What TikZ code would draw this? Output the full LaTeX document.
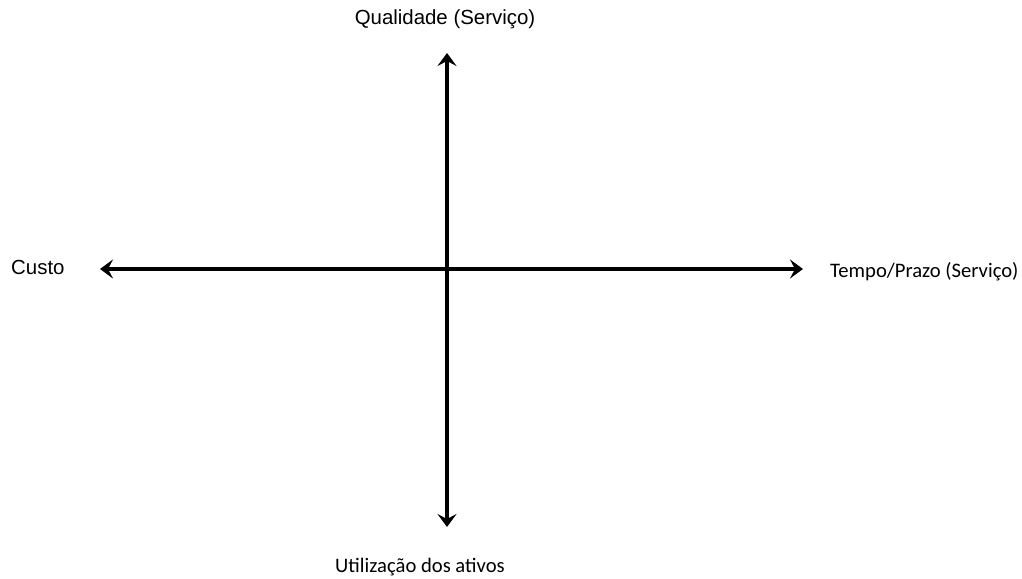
\documentclass[tikz,border=0pt]{standalone}
\usepackage{fontspec}
\usepackage{tikz}
\usetikzlibrary{arrows.meta}
\newfontfamily\arialfont{Liberation Sans}
\newfontfamily\calibrifont{Carlito}

\begin{document}
\begin{tikzpicture}[
  x=1bp, y=-1bp,
  axisArrow/.style ={line width=3.2bp, black, {Stealth[length=13bp,width=19bp,inset=5bp]}-{Stealth[length=13bp,width=19bp,inset=5bp]}},
  arialLbl/.style  ={font=\arialfont\fontsize{20.5}{24}\selectfont, inner sep=0pt},
  calibriLbl/.style={font=\calibrifont\fontsize{20.7}{24}\selectfont, inner sep=0pt},
]
% page frame: keeps the 1022x579 proportions
\useasboundingbox (0,0) rectangle (1022,579);
% axis ends
\coordinate (custoTip) at (100,269);
\coordinate (tempoTip) at (803,269);
\coordinate (qualTip)  at (447,53);
\coordinate (utilTip)  at (447,527);
% labels
\node[arialLbl, anchor=base]        (qual)  at (445,25)  {Qualidade (Serviço)};
\node[arialLbl, anchor=base west]   (custo) at (11,275)  {Custo};
\node[calibriLbl, anchor=base west] (tempo) at (830,278) {Tempo/Prazo (Serviço)};
\node[calibriLbl, anchor=base]      (util)  at (420,572) {Utilização dos ativos};
% the two axes
\draw[axisArrow] (custoTip) -- (tempoTip);
\draw[axisArrow] (qualTip) -- (utilTip);
\end{tikzpicture}
\end{document}
